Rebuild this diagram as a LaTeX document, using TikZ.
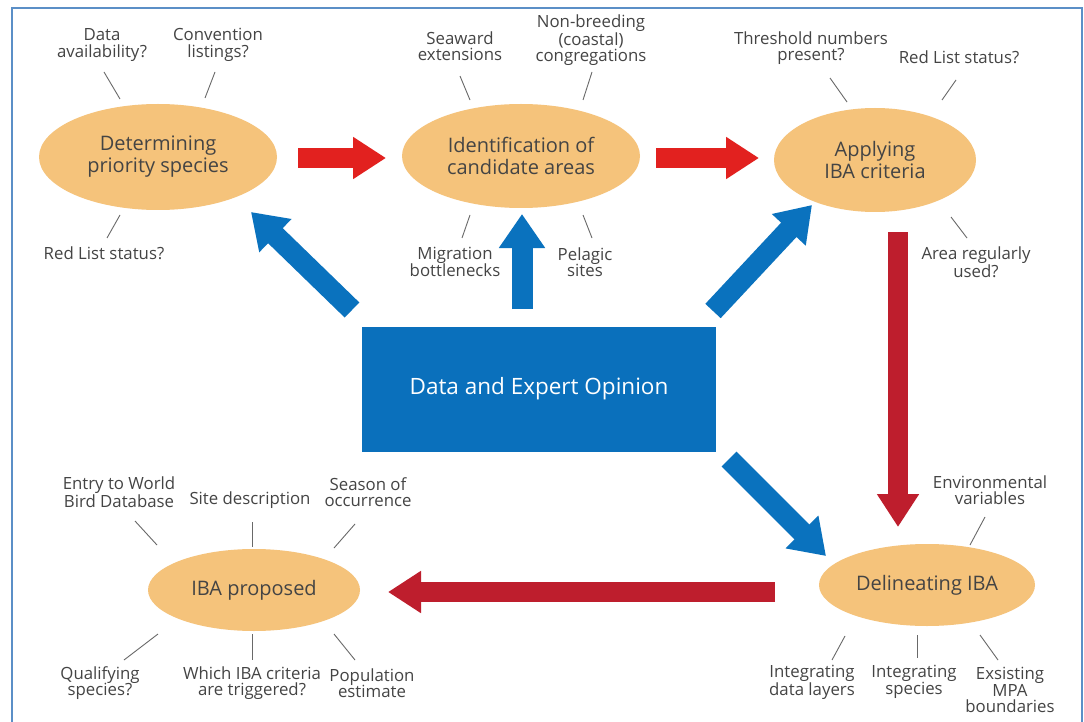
\documentclass[tikz,border=0pt]{standalone}
\usepackage{fontspec}
\setmainfont{Open Sans}
\usetikzlibrary{shapes.geometric,arrows.meta}
\definecolor{ellfill}{HTML}{F5C37B}
\definecolor{boxblue}{HTML}{0A70BC}
\definecolor{arrblue}{HTML}{0A72BE}
\definecolor{redA}{HTML}{E2211F}
\definecolor{redB}{HTML}{BE1E2D}
\definecolor{frame}{HTML}{5B8FC7}
\definecolor{txt}{HTML}{444444}
\tikzset{
  ell/.style={ellipse, fill=ellfill, inner sep=0pt, text=txt, font=\fontsize{20}{22}\selectfont, align=center},
  lbl/.style={text=txt, font=\fontsize{16.8}{16.5}\selectfont, align=center, inner sep=0pt},
  tick/.style={draw=txt!80, line width=0.9pt},
  redarrowA/.style={draw=redA, line width=20pt, -{Triangle[width=40pt,length=33pt]}},
  redarrowB/.style={draw=redB, line width=20pt, -{Triangle[width=40pt,length=33pt]}},
  bluearrow/.style={draw=arrblue, line width=21pt, -{Triangle[width=44pt,length=34pt]}},
}
\begin{document}
\begin{tikzpicture}[x=1pt,y=-1pt]
\useasboundingbox (0,0) rectangle (1084,722);
\fill[white] (0,0) rectangle (1084,722);
\draw[frame, line width=2pt] (12,740) -- (12,8) -- (1082,8) -- (1082,740);

% ellipses
\node[ell, minimum width=238pt, minimum height=106pt] (e1) at (158,157) {Determining\\priority species};
\node[ell, minimum width=238pt, minimum height=104pt] (e2) at (521,156) {Identification of\\candidate areas};
\node[ell, minimum width=202pt, minimum height=104pt] (e3) at (875,160) {Applying\\IBA criteria};
\node[ell, minimum width=216pt, minimum height=82pt] (e4) at (927,585) {Delineating IBA};
\node[ell, minimum width=212pt, minimum height=82pt] (e5) at (254,590) {IBA proposed};

% central box
\node[fill=boxblue, minimum width=354pt, minimum height=125pt, inner sep=0pt, text=white,
      font=\fontsize{22.5}{24}\selectfont] (dat) at (539,389) {Data and Expert Opinion};

% red arrows
\coordinate (r1s) at (298,158); \coordinate (r1e) at (386,158);
\coordinate (r2s) at (656,158); \coordinate (r2e) at (759,158);
\coordinate (r3s) at (898,232); \coordinate (r3e) at (898,527);
\coordinate (r4s) at (775,592); \coordinate (r4e) at (388,592);
\draw[redarrowA] (r1s) -- (r1e);
\draw[redarrowA] (r2s) -- (r2e);
\draw[redarrowB] (r3s) -- (r3e);
\draw[redarrowB] (r4s) -- (r4e);

% blue arrows
\coordinate (b1s) at (352,310); \coordinate (b1e) at (251,212);
\coordinate (b2s) at (522,309); \coordinate (b2e) at (522,214);
\coordinate (b3s) at (713,311); \coordinate (b3e) at (812,205);
\coordinate (b4s) at (729,459); \coordinate (b4e) at (826,556);
\draw[bluearrow] (b1s) -- (b1e);
\draw[bluearrow] (b2s) -- (b2e);
\draw[bluearrow] (b3s) -- (b3e);
\draw[bluearrow] (b4s) -- (b4e);

% labels ellipse 1
\node[lbl] (l11) at (102,45) {Data\\availability?};
\node[lbl] (l12) at (218,45) {Convention\\listings?};
\node[lbl] (l13) at (104,253) {Red List status?};
\draw[tick] (104,72) -- (120,99);
\draw[tick] (215,72) -- (205,98);
\draw[tick] (120,215) -- (107,238);

% labels ellipse 2
\node[lbl] (l21) at (460,46) {Seaward\\extensions};
\node[lbl] (l22) at (591,40) {Non-breeding\\(coastal)\\congregations};
\node[lbl] (l23) at (455,262) {Migration\\bottlenecks};
\node[lbl] (l24) at (585,262) {Pelagic\\sites};
\draw[tick] (460,76) -- (470,100);
\draw[tick] (592,72) -- (583,100);
\draw[tick] (470,215) -- (462,238);
\draw[tick] (583,215) -- (592,238);

% labels ellipse 3
\node[lbl] (l31) at (811,48) {Threshold numbers\\present?};
\node[lbl] (l32) at (959,57) {Red List status?};
\node[lbl] (l33) at (976,262) {Area regularly\\used?};
\draw[tick] (830,78) -- (847,102);
\draw[tick] (956,80) -- (942,100);
\draw[tick] (951,217) -- (967,238);

% labels ellipse 4
\node[lbl] (l41) at (990,490) {Environmental\\variables};
\node[lbl] (l42) at (812,682) {Integrating\\data layers};
\node[lbl] (l43) at (914,682) {Integrating\\species};
\node[lbl] (l44) at (1010,690) {Exsisting\\MPA\\boundaries};
\draw[tick] (985,517) -- (970,545);
\draw[tick] (845,636) -- (832,660);
\draw[tick] (917,635) -- (917,658);
\draw[tick] (980,635) -- (998,660);

% labels ellipse 5
\node[lbl] (l51) at (119,492) {Entry to World\\Bird Database};
\node[lbl] (l52) at (250,500) {Site description};
\node[lbl] (l53) at (368,492) {Season of\\occurrence};
\node[lbl] (l54) at (100,683) {Qualifying\\species?};
\node[lbl] (l55) at (252,683) {Which IBA criteria\\are triggered?};
\node[lbl] (l56) at (372,683) {Population\\estimate};
\draw[tick] (135,521) -- (157,545);
\draw[tick] (252,522) -- (252,547);
\draw[tick] (355,524) -- (334,548);
\draw[tick] (158,634) -- (124,660);
\draw[tick] (252,634) -- (252,660);
\draw[tick] (334,634) -- (355,660);
\end{tikzpicture}
\end{document}
